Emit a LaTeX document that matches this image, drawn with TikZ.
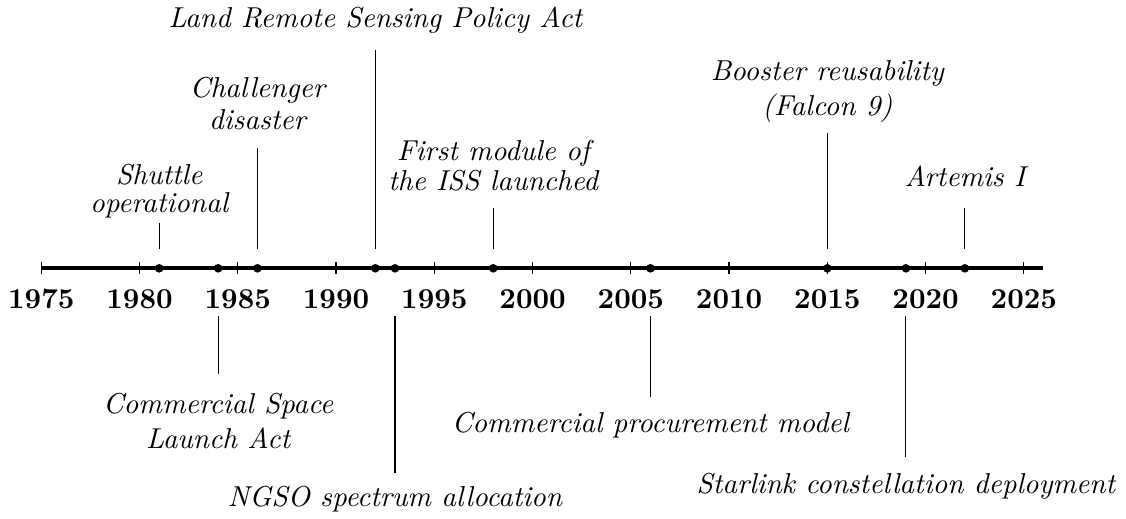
\documentclass[tikz,border=0pt]{standalone}
\usepackage{tikz}
\begin{document}
\begin{tikzpicture}[x=0.3472pt, y=-0.3472pt,
  axisline/.style={line width=1.3pt},
  tickline/.style={line width=0.4pt},
  evline/.style={line width=0.4pt},
  evdot/.style={circle, fill=black, inner sep=0pt, minimum size=3pt},
  yearlbl/.style={font=\bfseries, anchor=base, inner sep=0pt},
  evlbl/.style={font=\itshape, align=center, anchor=base, inner sep=0pt}]
\useasboundingbox (0,0) rectangle (1126,518);
\def\ax{268.3}
% axis
\coordinate (axs) at (41.3,\ax);
\coordinate (axe) at (1043,\ax);
\draw[axisline] (axs) -- (axe);
% ticks and years
\foreach \y in {1975,1980,...,2025}{
  \pgfmathsetmacro{\xx}{41.3+(\y-1975)*19.65}
  \coordinate (t\y a) at (\xx,\ax-6);
  \coordinate (t\y b) at (\xx,\ax+6);
  \draw[tickline] (t\y a) -- (t\y b);
  \node[yearlbl] (y\y) at (\xx,308) {\y};
}
% events above: year / line top / last baseline / text
\foreach \y/\top/\bl/\txt in {
  1981/223/212/{Shuttle\\[-2.6pt]operational},
  1986/148/129/{Challenger\\[-1.2pt]disaster},
  1992/50/27/{Land Remote Sensing Policy Act},
  1998/208/190/{First module of\\[-1.6pt]the ISS launched},
  2015/133/115/{Booster reusability\\(Falcon 9)},
  2022/208/186/{Artemis I}}{
  \pgfmathsetmacro{\xx}{41.3+(\y-1975)*19.65}
  \coordinate (s\y) at (\xx,249);
  \coordinate (e\y) at (\xx,\top);
  \draw[evline] (s\y) -- (e\y);
  \node[evlbl] (l\y) at (\xx,\bl) {\txt};
}
% events below
\foreach \y/\bot/\bl/\txt in {
  1984/374/448/{Commercial Space\\Launch Act},
  1993/473/506/{NGSO spectrum allocation},
  2006/397/432/{Commercial procurement model},
  2019/457/493/{Starlink constellation deployment}}{
  \pgfmathsetmacro{\xx}{41.3+(\y-1975)*19.65}
  \coordinate (s\y) at (\xx,316);
  \coordinate (e\y) at (\xx,\bot);
  \draw[evline] (s\y) -- (e\y);
  \node[evlbl] (l\y) at (\xx,\bl) {\txt};
}
% dots
\foreach \y in {1981,1984,1986,1992,1993,1998,2006,2015,2019,2022}{
  \pgfmathsetmacro{\xx}{41.3+(\y-1975)*19.65}
  \node[evdot] (d\y) at (\xx,\ax) {};
}
\end{tikzpicture}
\end{document}
